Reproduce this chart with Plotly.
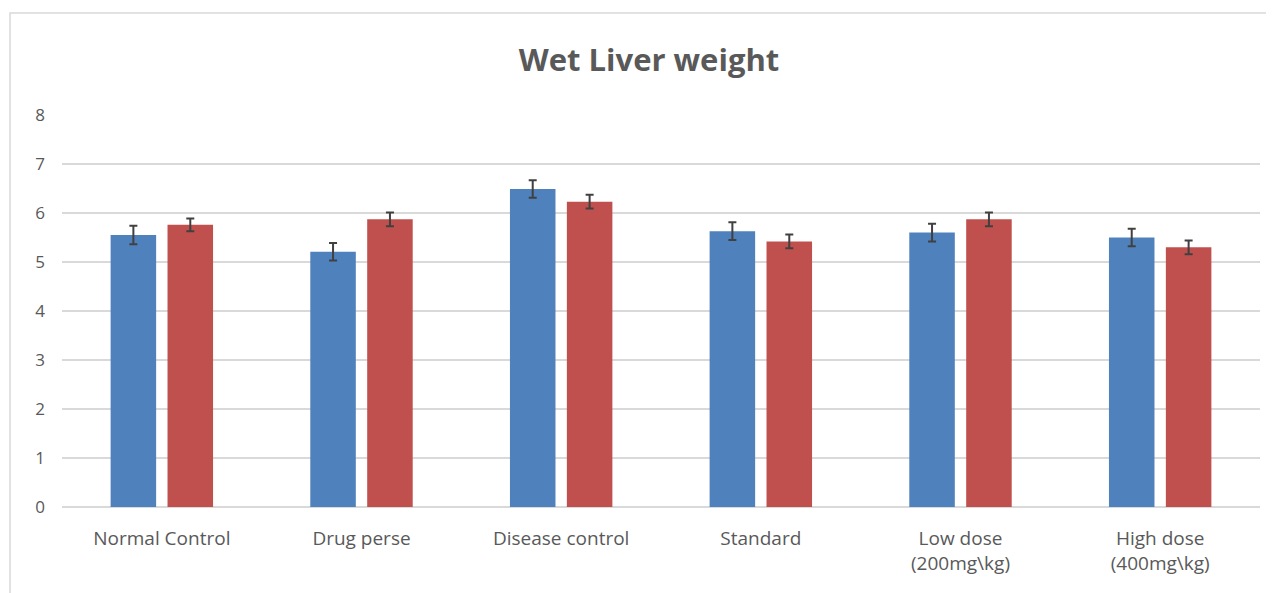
import plotly.graph_objects as go

categories = ["Normal Control", "Drug perse", "Disease control", "Standard",
              "Low dose<br>(200mg\\kg)", "High dose<br>(400mg\\kg)"]
series1 = [5.55, 5.21, 6.49, 5.63, 5.60, 5.50]
err1 = [0.19, 0.18, 0.18, 0.18, 0.18, 0.18]
series2 = [5.76, 5.87, 6.23, 5.42, 5.87, 5.30]
err2 = [0.13, 0.14, 0.14, 0.14, 0.14, 0.14]
y_ticks = [0, 1, 2, 3, 4, 5, 6, 7, 8]

OFF = 8  # page body margin
W, H = 1274 - OFF, 593 - OFF
ml, mr, mt, mb = 62 - OFF, 14, 115 - OFF, 86

fig = go.Figure()
fig.add_trace(go.Bar(x=categories, y=series1, name="Series1",
                     marker=dict(color="#4F81BD", line=dict(width=0)),
                     error_y=dict(type="data", array=err1, visible=True,
                                  color="#404040", thickness=2, width=4)))
fig.add_trace(go.Bar(x=categories, y=series2, name="Series2",
                     marker=dict(color="#C0504D", line=dict(width=0)),
                     error_y=dict(type="data", array=err2, visible=True,
                                  color="#404040", thickness=2, width=4)))

pw = W - ml - mr
ph = H - mt - mb
fig.add_shape(type="rect", xref="paper", yref="paper",
              x0=(10 - OFF - ml) / pw, x1=(W + 5 - ml) / pw,
              y0=-(mb + 10) / ph, y1=(H - mb - (13 - OFF)) / ph,
              line=dict(color="#d9d9d9", width=1.5), fillcolor="rgba(0,0,0,0)",
              layer="below")

fig.update_layout(
    width=W, height=H,
    margin=dict(l=ml, r=mr, t=mt, b=mb),
    paper_bgcolor="white", plot_bgcolor="white",
    showlegend=False,
    barmode="group", bargap=0.43, bargroupgap=0.2,
    font=dict(family="Open Sans", color="#595959"),
    title=dict(text="<b>Wet Liver weight</b>", x=(649 - OFF) / W, xref="container",
               xanchor="center", y=1 - (60 - OFF) / H, yanchor="middle",
               font=dict(size=31, family="Open Sans", color="#595959")),
    xaxis=dict(showline=False, ticks="", tickfont=dict(size=19, color="#595959"),
               showgrid=False, ticklabelstandoff=18),
    yaxis=dict(range=[0, 8], tickvals=y_ticks, showgrid=True, gridcolor="#d9d9d9",
               gridwidth=1.5, zeroline=True, zerolinecolor="#d9d9d9", zerolinewidth=1.5,
               showline=False, ticks="", ticklabelstandoff=16,
               tickfont=dict(size=17, color="#595959")),
)

fig.write_html("out.html")
